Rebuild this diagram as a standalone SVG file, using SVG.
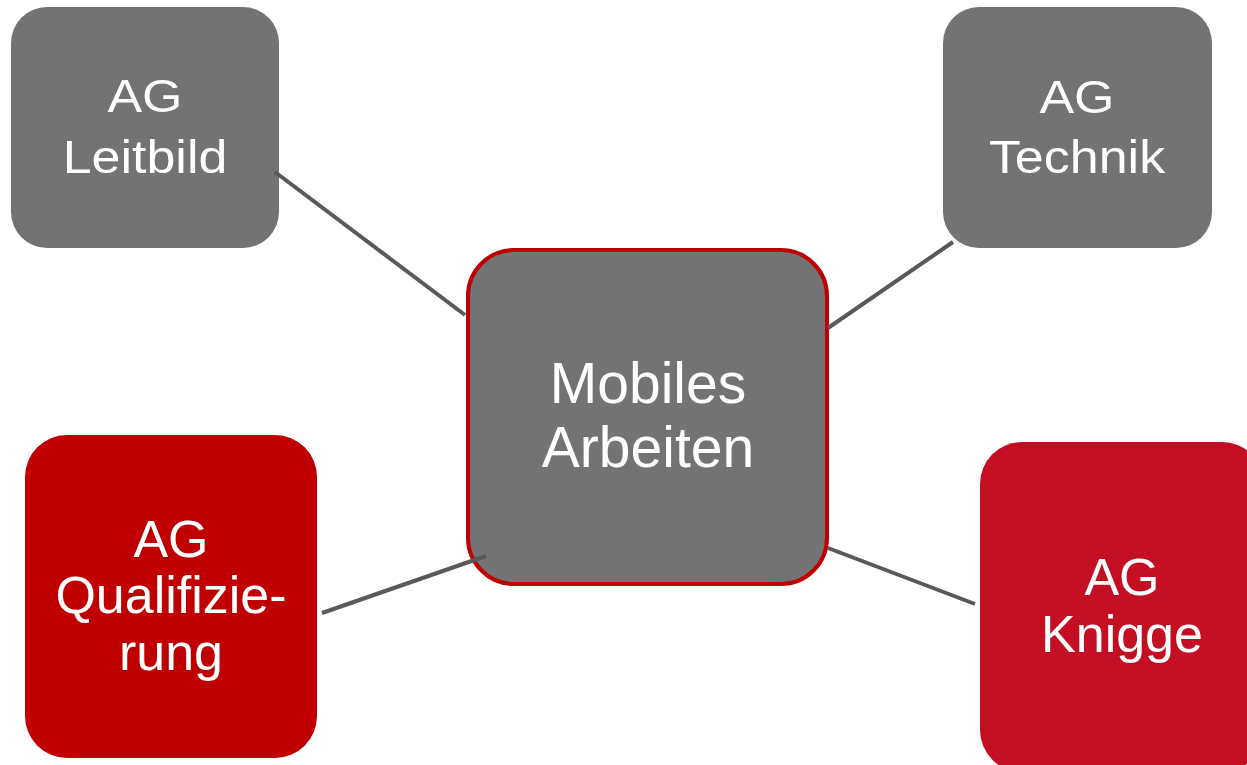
<svg xmlns="http://www.w3.org/2000/svg" width="1247" height="765" viewBox="0 0 1247 765">
  <style>
    .grey { fill: #737373; }
    .red { fill: #C00000; }
    .crimson { fill: #C40F22; }
    .hub { fill: #737373; stroke: #C00000; stroke-width: 4; }
    .label { fill: #FFFFFF; font-family: "Liberation Sans", Arial, sans-serif; text-anchor: middle; }
    .wide { font-size: 46px; }
    .link { stroke: #595959; stroke-width: 4; fill: none; }
  </style>

  <!-- Satellite working groups and central topic -->
  <g id="ag-leitbild">
    <rect class="grey" x="11" y="7" width="268" height="241" rx="36"/>
    <g transform="translate(145 0) scale(1.13 1)">
      <text class="label wide" x="0" y="112">AG</text>
      <text class="label wide" x="0" y="173">Leitbild</text>
    </g>
  </g>

  <g id="ag-technik">
    <rect class="grey" x="943" y="7" width="269" height="241" rx="36"/>
    <g transform="translate(1077 0) scale(1.13 1)">
      <text class="label wide" x="0" y="113">AG</text>
      <text class="label wide" x="0" y="173">Technik</text>
    </g>
  </g>

  <g id="mobiles-arbeiten">
    <rect class="hub" x="468" y="250" width="359" height="334" rx="46"/>
    <text class="label" font-size="57" x="648" y="403">Mobiles</text>
    <text class="label" font-size="57" x="648" y="467">Arbeiten</text>
  </g>

  <g id="ag-qualifizierung">
    <rect class="red" x="25" y="435" width="292" height="323" rx="42"/>
    <text class="label" font-size="52" x="171" y="557">AG</text>
    <text class="label" font-size="52" x="171" y="613">Qualifizie-</text>
    <text class="label" font-size="52" x="171" y="670">rung</text>
  </g>

  <g id="ag-knigge">
    <rect class="crimson" x="980" y="442" width="284" height="330" rx="42"/>
    <text class="label" font-size="52" x="1122" y="595">AG</text>
    <text class="label" font-size="52" x="1122" y="652">Knigge</text>
  </g>

  <!-- Connectors from the central topic to each group -->
  <g id="connectors">
    <line class="link" x1="275" y1="172" x2="465" y2="315"/>
    <line class="link" x1="953" y1="242" x2="828" y2="328"/>
    <line class="link" x1="322" y1="613" x2="486" y2="556"/>
    <line class="link" x1="828" y1="548" x2="975" y2="604"/>
  </g>
</svg>
